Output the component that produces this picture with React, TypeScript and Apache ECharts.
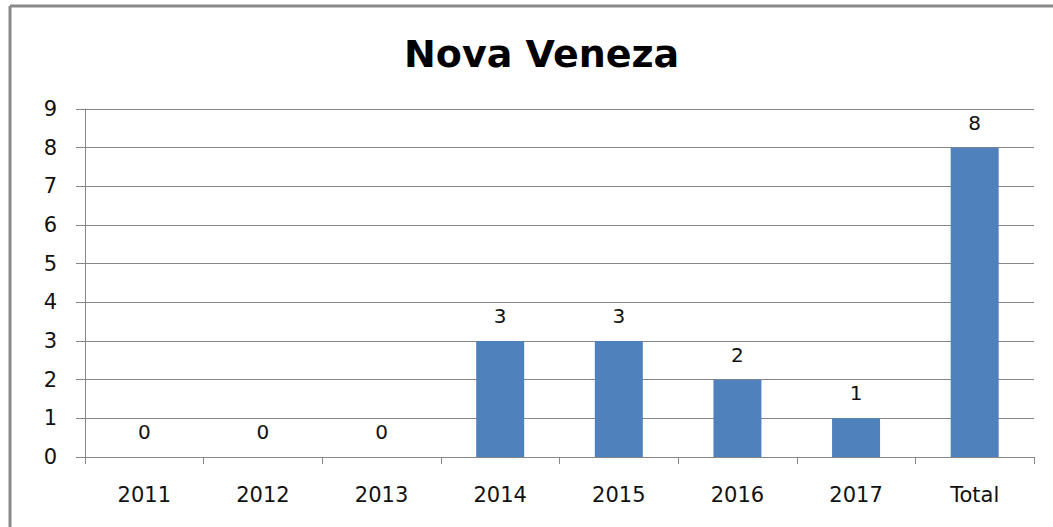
import React, { useEffect, useRef } from "react";
import * as echarts from "echarts";

const categories = ["2011", "2012", "2013", "2014", "2015", "2016", "2017", "Total"];
const values = [0, 0, 0, 3, 3, 2, 1, 8];
const titleText = "Nova Veneza";

export default function App() {
  const ref = useRef<HTMLDivElement>(null);
  useEffect(() => {
    const chart = echarts.init(ref.current!, null, { renderer: "svg" });
    const font = "DejaVu Sans";
    chart.setOption({
      animation: false,
      backgroundColor: "#ffffff",
      title: {
        text: titleText,
        left: 399,
        top: 30,
        textStyle: { fontFamily: font, fontSize: 38, fontWeight: "bold", color: "#000" },
      },
      graphic: [
        { type: "line", shape: { x1: 10, y1: 6, x2: 1053, y2: 6 }, style: { stroke: "#8a8a8a", lineWidth: 3 } },
        { type: "line", shape: { x1: 10, y1: 6, x2: 10, y2: 527 }, style: { stroke: "#8a8a8a", lineWidth: 3 } },
      ],
      grid: { left: 85, right: 19, top: 109, bottom: 70 },
      xAxis: {
        type: "category",
        data: categories,
        axisLine: { lineStyle: { color: "#868686", width: 1 } },
        axisTick: { show: true, length: 7, alignWithLabel: false, lineStyle: { color: "#868686" } },
        axisLabel: { fontFamily: font, fontSize: 21, color: "#111", margin: 27 },
      },
      yAxis: {
        type: "value",
        min: 0,
        max: 9,
        interval: 1,
        axisLine: { show: true, lineStyle: { color: "#868686", width: 1 } },
        axisTick: { show: true, length: 9, lineStyle: { color: "#868686" } },
        splitLine: { lineStyle: { color: "#868686", width: 1 } },
        axisLabel: { fontFamily: font, fontSize: 21, color: "#111", margin: 28 },
      },
      series: [
        {
          type: "bar",
          data: values,
          barWidth: 48,
          itemStyle: { color: "#4f81bd" },
          label: {
            show: true,
            position: "top",
            distance: 15,
            fontFamily: font,
            fontSize: 20,
            color: "#111",
          },
        },
      ],
    });
    return () => chart.dispose();
  }, []);
  return <div ref={ref} style={{ position: "fixed", left: 0, top: 0, width: 1053, height: 527 }} />;
}
